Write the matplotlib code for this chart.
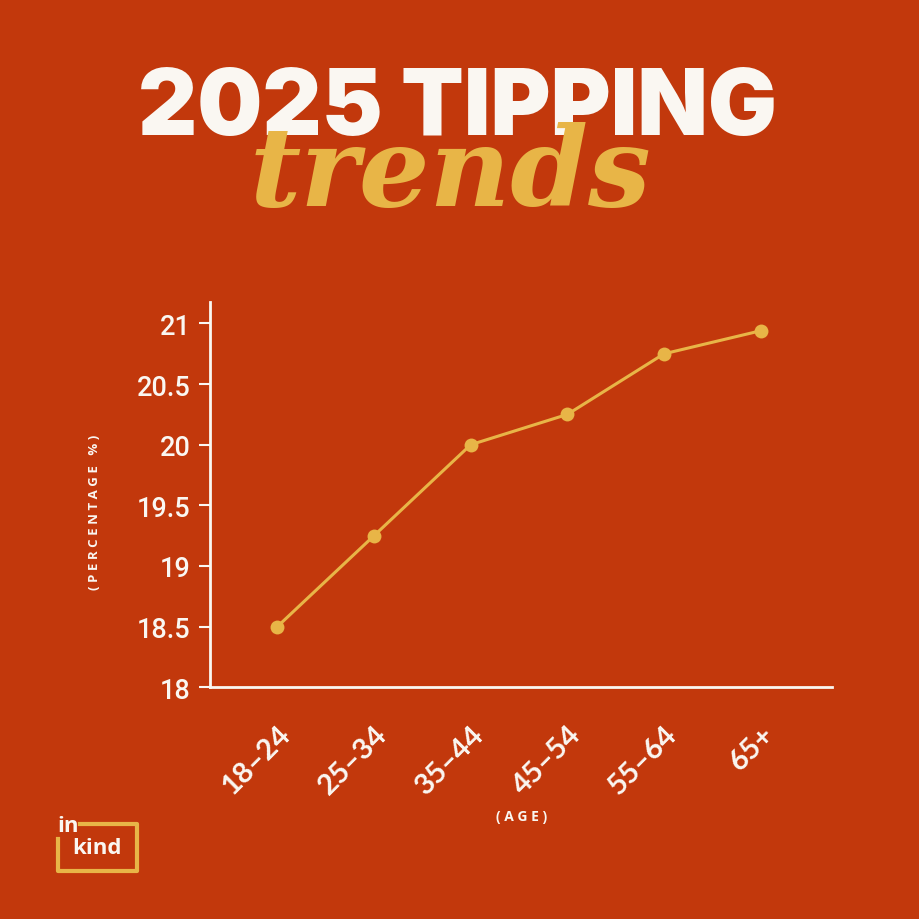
import matplotlib
matplotlib.use("Agg")
import matplotlib.pyplot as plt
from matplotlib.lines import Line2D

# data
ages = ["18–24", "25–34", "35–44", "45–54", "55–64", "65+"]
tip_pct = [18.5, 19.25, 20.0, 20.25, 20.75, 20.94]
yticks = [18, 18.5, 19, 19.5, 20, 20.5, 21]

bg = "#C2380C"
gold = "#E8B547"
white = "#FAF7F2"

fig = plt.figure(figsize=(9.2, 9.2), dpi=100, facecolor=bg)
ax = fig.add_axes([0.228, 0.252, 0.676, 0.419])
ax.set_facecolor(bg)

x = list(range(len(ages)))
ax.plot(x, tip_pct, color=gold, linewidth=2.2, marker="o", markersize=10,
        markeredgewidth=0, zorder=3)

ax.set_xlim(-0.70, 5.735)
ax.set_ylim(18, 21.18)
ax.set_yticks(yticks)
ax.set_yticklabels([f"{v:g}" for v in yticks], fontsize=19.5, color=white,
                   family="Roboto", fontweight="medium")
ax.set_xticks(x)
ax.set_xticklabels(ages, fontsize=21, color=white, rotation=45, ha="right",
                   va="top", rotation_mode="anchor",
                   family="Lato", fontweight="bold")

for s in ["top", "right"]:
    ax.spines[s].set_visible(False)
for s in ["left", "bottom"]:
    ax.spines[s].set_color(white)
    ax.spines[s].set_linewidth(2)
ax.tick_params(axis="y", length=8, width=1.5, color=white, pad=6)
ax.tick_params(axis="x", length=0, pad=24)

fig.text(0.103, 0.443, "( P E R C E N T A G E   % )", rotation=90,
         fontsize=9.5, fontweight="bold", color=white, ha="center", va="center",
         family="Open Sans")
fig.text(0.567, 0.112, "( A G E )", fontsize=10, fontweight="bold", color=white,
         ha="center", va="center", family="Open Sans")

# title
fig.text(0.497, 1 - 135 / 920, "2025 TIPPING", fontsize=66, fontweight="black",
         color=white, ha="center", va="baseline", family="Inter")
fig.text(0.49, 1 - 206 / 920, "trends", fontsize=80, fontweight="bold",
         style="italic", color=gold, ha="center", va="baseline",
         family="DejaVu Serif")

# logo
W = H = 920
px = [80, 137, 137, 58, 58]
py = [825, 825, 872, 872, 840]
fig.add_artist(Line2D([p / W for p in px], [1 - p / H for p in py],
                      color=gold, linewidth=3, solid_joinstyle="round",
                      transform=fig.transFigure))
fig.text(57 / W, 1 - 827 / H, "in", fontsize=16, fontweight="bold",
         color=white, ha="left", va="center", family="Open Sans")
fig.text(72 / W, 1 - 849 / H, "kind", fontsize=16, fontweight="bold",
         color=white, ha="left", va="center", family="Open Sans")

fig.savefig("out.png", dpi=100, facecolor=bg)
